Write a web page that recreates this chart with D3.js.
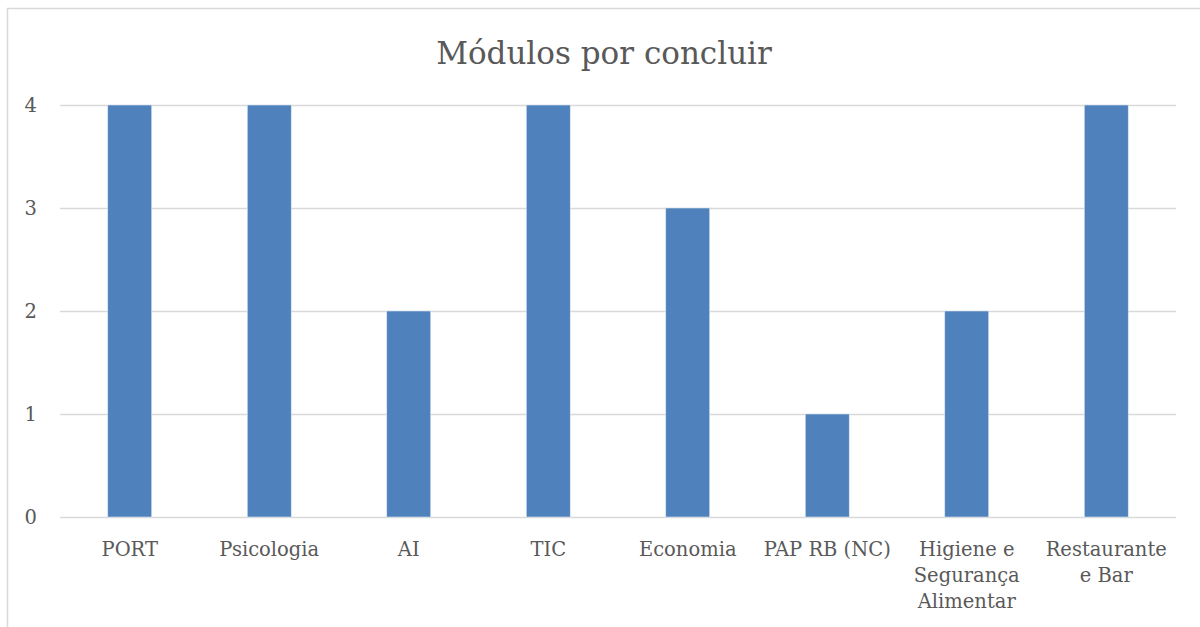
<html>
<meta http-equiv="content-type" content="text/html; charset=UTF8">
<style>
  body {margin:0; background:#fff;}
  text {font-family: "DejaVu Serif", "Liberation Serif", serif; fill:#595959;}
</style>
<body>
<svg id="svg1" width="1200" height="627"></svg>
<script src="https://cdn.jsdelivr.net/npm/d3@7/dist/d3.min.js"></script>
<script>
var title="Módulos por concluir";
var categories=["PORT","Psicologia","AI","TIC","Economia","PAP RB (NC)","Higiene e\nSegurança\nAlimentar","Restaurante\ne Bar"];
var values=[4,4,2,4,3,1,2,4];
var yticks=[0,1,2,3,4];

var plotLeft=60, plotRight=1176, plotTop=105, plotBottom=517;

var svg=d3.select("#svg1");

// chart frame (runs off right and bottom edge in the original)
svg.append("rect")
    .attr("x",7.5).attr("y",8.5)
    .attr("width",1200).attr("height",700)
    .style("fill","white")
    .style("stroke","#d9d9d9")
    .style("stroke-width","1.5");

var x=d3.scaleBand().domain(categories).range([plotLeft,plotRight]).paddingInner(0.685).paddingOuter(0.3425);
var y=d3.scaleLinear().domain([0,4]).range([plotBottom,plotTop]);

svg.append("text")
    .attr("x",604).attr("y",64)
    .attr("text-anchor","middle")
    .style("font-size","31px")
    .text(title);

svg.selectAll("line.grid").data(yticks).enter().append("line")
    .attr("class","grid")
    .attr("x1",plotLeft).attr("x2",plotRight)
    .attr("y1",function(d){return Math.round(y(d))+0.5})
    .attr("y2",function(d){return Math.round(y(d))+0.5})
    .style("stroke","#d9d9d9")
    .style("stroke-width","1.5");

svg.selectAll("text.ytick").data(yticks).enter().append("text")
    .attr("class","ytick")
    .attr("x",37).attr("y",function(d){return y(d)+7})
    .attr("text-anchor","end")
    .style("font-size","19.5px")
    .text(function(d){return d});

svg.selectAll("rect.bar").data(values).enter().append("rect")
    .attr("class","bar")
    .attr("x",function(d,i){return x(categories[i])})
    .attr("width",x.bandwidth())
    .attr("y",function(d){return y(d)})
    .attr("height",function(d){return y(0)-y(d)})
    .style("fill","#4f81bd")
    .style("stroke","#dbe5f1")
    .style("stroke-width","0.6");

var lab=svg.selectAll("text.xlab").data(categories).enter().append("text")
    .attr("class","xlab")
    .attr("text-anchor","middle")
    .attr("y",556)
    .style("font-size","19.5px");
lab.each(function(d){
    var t=d3.select(this), cx=x(d)+x.bandwidth()/2;
    d.split("\n").forEach(function(s,k){
        t.append("tspan").attr("x",cx).attr("dy",k==0?0:26).text(s);
    });
});
</script>
</body>
</html>
